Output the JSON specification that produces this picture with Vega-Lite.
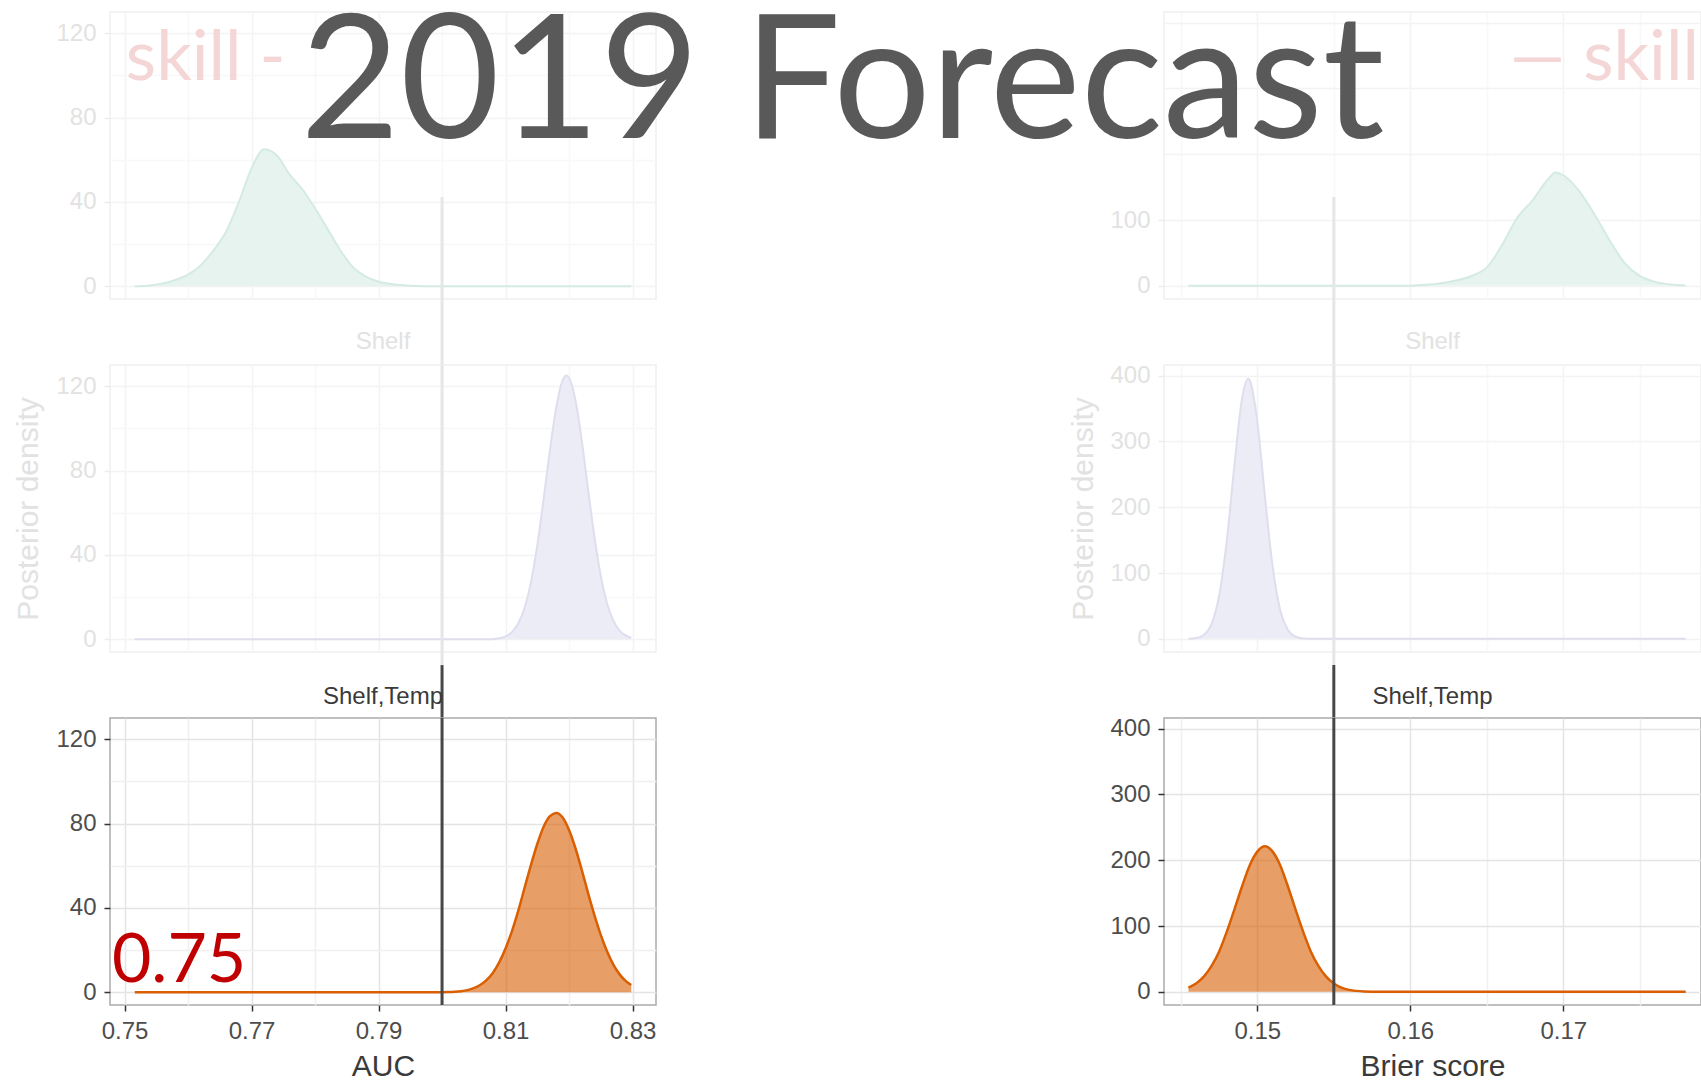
{
  "$schema": "https://vega.github.io/schema/vega-lite/v6.json",
  "background": "white",
  "autosize": {"type": "none"},
  "padding": {"left": 110, "top": 12, "right": 1591, "bottom": 1068},
  "datasets": {
    "auc": [
      {"model": "Temp", "auc": 0.7516, "density": 0}, {"model": "Temp", "auc": 0.754, "density": 0.4}, {"model": "Temp", "auc": 0.756, "density": 1.4}, {"model": "Temp", "auc": 0.758, "density": 3}, {"model": "Temp", "auc": 0.76, "density": 5.5}, {"model": "Temp", "auc": 0.762, "density": 10}, {"model": "Temp", "auc": 0.764, "density": 17}, {"model": "Temp", "auc": 0.766, "density": 26}, {"model": "Temp", "auc": 0.768, "density": 40}, {"model": "Temp", "auc": 0.77, "density": 56}, {"model": "Temp", "auc": 0.772, "density": 65}, {"model": "Temp", "auc": 0.774, "density": 62}, {"model": "Temp", "auc": 0.776, "density": 53}, {"model": "Temp", "auc": 0.778, "density": 46}, {"model": "Temp", "auc": 0.78, "density": 37}, {"model": "Temp", "auc": 0.782, "density": 27}, {"model": "Temp", "auc": 0.784, "density": 17}, {"model": "Temp", "auc": 0.786, "density": 9}, {"model": "Temp", "auc": 0.788, "density": 4.6}, {"model": "Temp", "auc": 0.79, "density": 2.2}, {"model": "Temp", "auc": 0.792, "density": 1.1}, {"model": "Temp", "auc": 0.794, "density": 0.5}, {"model": "Temp", "auc": 0.796, "density": 0.2}, {"model": "Temp", "auc": 0.8, "density": 0.05}, {"model": "Temp", "auc": 0.805, "density": 0}, {"model": "Temp", "auc": 0.81, "density": 0}, {"model": "Temp", "auc": 0.815, "density": 0}, {"model": "Temp", "auc": 0.82, "density": 0}, {"model": "Temp", "auc": 0.825, "density": 0}, {"model": "Temp", "auc": 0.8298, "density": 0},
      {"model": "Shelf", "auc": 0.7516, "density": 0}, {"model": "Shelf", "auc": 0.76, "density": 0}, {"model": "Shelf", "auc": 0.77, "density": 0}, {"model": "Shelf", "auc": 0.78, "density": 0}, {"model": "Shelf", "auc": 0.79, "density": 0}, {"model": "Shelf", "auc": 0.8, "density": 0}, {"model": "Shelf", "auc": 0.805, "density": 0}, {"model": "Shelf", "auc": 0.808, "density": 0.1}, {"model": "Shelf", "auc": 0.809, "density": 0.5}, {"model": "Shelf", "auc": 0.81, "density": 1.4}, {"model": "Shelf", "auc": 0.811, "density": 3.4}, {"model": "Shelf", "auc": 0.812, "density": 7.5}, {"model": "Shelf", "auc": 0.813, "density": 14.9}, {"model": "Shelf", "auc": 0.814, "density": 27}, {"model": "Shelf", "auc": 0.815, "density": 44.5}, {"model": "Shelf", "auc": 0.816, "density": 66.4}, {"model": "Shelf", "auc": 0.817, "density": 89.9}, {"model": "Shelf", "auc": 0.818, "density": 110}, {"model": "Shelf", "auc": 0.819, "density": 122.8}, {"model": "Shelf", "auc": 0.8196, "density": 125}, {"model": "Shelf", "auc": 0.82, "density": 124}, {"model": "Shelf", "auc": 0.821, "density": 113.6}, {"model": "Shelf", "auc": 0.822, "density": 94.4}, {"model": "Shelf", "auc": 0.823, "density": 71.1}, {"model": "Shelf", "auc": 0.824, "density": 48.6}, {"model": "Shelf", "auc": 0.825, "density": 30.2}, {"model": "Shelf", "auc": 0.826, "density": 16.9}, {"model": "Shelf", "auc": 0.827, "density": 8.7}, {"model": "Shelf", "auc": 0.828, "density": 4}, {"model": "Shelf", "auc": 0.829, "density": 1.7}, {"model": "Shelf", "auc": 0.8298, "density": 0.8},
      {"model": "Shelf,Temp", "auc": 0.7516, "density": 0}, {"model": "Shelf,Temp", "auc": 0.76, "density": 0}, {"model": "Shelf,Temp", "auc": 0.77, "density": 0}, {"model": "Shelf,Temp", "auc": 0.78, "density": 0}, {"model": "Shelf,Temp", "auc": 0.79, "density": 0}, {"model": "Shelf,Temp", "auc": 0.795, "density": 0}, {"model": "Shelf,Temp", "auc": 0.8, "density": 0.05}, {"model": "Shelf,Temp", "auc": 0.801, "density": 0.13}, {"model": "Shelf,Temp", "auc": 0.802, "density": 0.28}, {"model": "Shelf,Temp", "auc": 0.803, "density": 0.55}, {"model": "Shelf,Temp", "auc": 0.804, "density": 1.06}, {"model": "Shelf,Temp", "auc": 0.805, "density": 2}, {"model": "Shelf,Temp", "auc": 0.806, "density": 3.5}, {"model": "Shelf,Temp", "auc": 0.807, "density": 5.8}, {"model": "Shelf,Temp", "auc": 0.808, "density": 9.2}, {"model": "Shelf,Temp", "auc": 0.809, "density": 14.2}, {"model": "Shelf,Temp", "auc": 0.81, "density": 20.8}, {"model": "Shelf,Temp", "auc": 0.811, "density": 28.9}, {"model": "Shelf,Temp", "auc": 0.812, "density": 38.6}, {"model": "Shelf,Temp", "auc": 0.813, "density": 49.5}, {"model": "Shelf,Temp", "auc": 0.814, "density": 60.3}, {"model": "Shelf,Temp", "auc": 0.815, "density": 70.3}, {"model": "Shelf,Temp", "auc": 0.816, "density": 78.5}, {"model": "Shelf,Temp", "auc": 0.817, "density": 83.5}, {"model": "Shelf,Temp", "auc": 0.818, "density": 85}, {"model": "Shelf,Temp", "auc": 0.819, "density": 82.8}, {"model": "Shelf,Temp", "auc": 0.82, "density": 76.9}, {"model": "Shelf,Temp", "auc": 0.821, "density": 68.4}, {"model": "Shelf,Temp", "auc": 0.822, "density": 58.1}, {"model": "Shelf,Temp", "auc": 0.823, "density": 47}, {"model": "Shelf,Temp", "auc": 0.824, "density": 36.6}, {"model": "Shelf,Temp", "auc": 0.825, "density": 27.2}, {"model": "Shelf,Temp", "auc": 0.826, "density": 19.3}, {"model": "Shelf,Temp", "auc": 0.827, "density": 13}, {"model": "Shelf,Temp", "auc": 0.828, "density": 8.4}, {"model": "Shelf,Temp", "auc": 0.829, "density": 5.2}, {"model": "Shelf,Temp", "auc": 0.8298, "density": 3.5}
    ],
    "brier": [
      {"model": "Temp", "brier": 0.1455, "density": 0}, {"model": "Temp", "brier": 0.15, "density": 0}, {"model": "Temp", "brier": 0.155, "density": 0}, {"model": "Temp", "brier": 0.158, "density": 0.05}, {"model": "Temp", "brier": 0.16, "density": 0.3}, {"model": "Temp", "brier": 0.161, "density": 1.5}, {"model": "Temp", "brier": 0.162, "density": 4}, {"model": "Temp", "brier": 0.163, "density": 8}, {"model": "Temp", "brier": 0.164, "density": 15}, {"model": "Temp", "brier": 0.165, "density": 28}, {"model": "Temp", "brier": 0.166, "density": 62}, {"model": "Temp", "brier": 0.167, "density": 104}, {"model": "Temp", "brier": 0.168, "density": 130}, {"model": "Temp", "brier": 0.169, "density": 162}, {"model": "Temp", "brier": 0.1695, "density": 172}, {"model": "Temp", "brier": 0.17, "density": 168}, {"model": "Temp", "brier": 0.171, "density": 145}, {"model": "Temp", "brier": 0.172, "density": 110}, {"model": "Temp", "brier": 0.173, "density": 70}, {"model": "Temp", "brier": 0.174, "density": 35}, {"model": "Temp", "brier": 0.175, "density": 15}, {"model": "Temp", "brier": 0.176, "density": 6}, {"model": "Temp", "brier": 0.177, "density": 2}, {"model": "Temp", "brier": 0.178, "density": 0.5},
      {"model": "Shelf", "brier": 0.1455, "density": 0.2}, {"model": "Shelf", "brier": 0.146, "density": 1.2}, {"model": "Shelf", "brier": 0.1465, "density": 5.9}, {"model": "Shelf", "brier": 0.147, "density": 22}, {"model": "Shelf", "brier": 0.1475, "density": 65}, {"model": "Shelf", "brier": 0.148, "density": 148}, {"model": "Shelf", "brier": 0.1485, "density": 263}, {"model": "Shelf", "brier": 0.149, "density": 365}, {"model": "Shelf", "brier": 0.1494, "density": 395}, {"model": "Shelf", "brier": 0.1495, "density": 393}, {"model": "Shelf", "brier": 0.15, "density": 330}, {"model": "Shelf", "brier": 0.1505, "density": 216}, {"model": "Shelf", "brier": 0.151, "density": 110}, {"model": "Shelf", "brier": 0.1515, "density": 43}, {"model": "Shelf", "brier": 0.152, "density": 13.5}, {"model": "Shelf", "brier": 0.1525, "density": 3.2}, {"model": "Shelf", "brier": 0.153, "density": 0.6}, {"model": "Shelf", "brier": 0.154, "density": 0}, {"model": "Shelf", "brier": 0.16, "density": 0}, {"model": "Shelf", "brier": 0.17, "density": 0}, {"model": "Shelf", "brier": 0.178, "density": 0},
      {"model": "Shelf,Temp", "brier": 0.1455, "density": 6.4}, {"model": "Shelf,Temp", "brier": 0.146, "density": 12.6}, {"model": "Shelf,Temp", "brier": 0.1465, "density": 23}, {"model": "Shelf,Temp", "brier": 0.147, "density": 39}, {"model": "Shelf,Temp", "brier": 0.1475, "density": 61}, {"model": "Shelf,Temp", "brier": 0.148, "density": 91}, {"model": "Shelf,Temp", "brier": 0.1485, "density": 125}, {"model": "Shelf,Temp", "brier": 0.149, "density": 160}, {"model": "Shelf,Temp", "brier": 0.1495, "density": 192}, {"model": "Shelf,Temp", "brier": 0.15, "density": 213}, {"model": "Shelf,Temp", "brier": 0.1505, "density": 221}, {"model": "Shelf,Temp", "brier": 0.151, "density": 213}, {"model": "Shelf,Temp", "brier": 0.1515, "density": 192}, {"model": "Shelf,Temp", "brier": 0.152, "density": 160}, {"model": "Shelf,Temp", "brier": 0.1525, "density": 125}, {"model": "Shelf,Temp", "brier": 0.153, "density": 91}, {"model": "Shelf,Temp", "brier": 0.1535, "density": 61}, {"model": "Shelf,Temp", "brier": 0.154, "density": 39}, {"model": "Shelf,Temp", "brier": 0.1545, "density": 23}, {"model": "Shelf,Temp", "brier": 0.155, "density": 12.6}, {"model": "Shelf,Temp", "brier": 0.1555, "density": 6.4}, {"model": "Shelf,Temp", "brier": 0.156, "density": 3}, {"model": "Shelf,Temp", "brier": 0.157, "density": 0.6}, {"model": "Shelf,Temp", "brier": 0.158, "density": 0.1}, {"model": "Shelf,Temp", "brier": 0.16, "density": 0}, {"model": "Shelf,Temp", "brier": 0.165, "density": 0}, {"model": "Shelf,Temp", "brier": 0.17, "density": 0}, {"model": "Shelf,Temp", "brier": 0.175, "density": 0}, {"model": "Shelf,Temp", "brier": 0.178, "density": 0}
    ],
    "thresholds": [
      {"metric": "AUC", "auc": 0.8},
      {"metric": "Brier", "brier": 0.155}
    ]
  },
  "columns": 2,
  "spacing": {"row": 66, "column": 508},
  "bounds": "flush",
  "concat": [
    {
      "width": 546, "height": 287,
      "view": {"stroke": "#f0f0f0", "strokeWidth": 1.5},
      "layer": [
        {"data": {"name": "auc"}, "transform": [{"filter": "datum.model === 'Temp'"}], "mark": {"type": "area", "color": "#e6f3ee", "interpolate": "monotone"},
          "encoding": {
            "x": {"field": "auc", "type": "quantitative", "scale": {"domain": [0.7477, 0.8337]},
              "axis": {"values": [0.75, 0.76, 0.77, 0.78, 0.79, 0.8, 0.81, 0.82, 0.83], "labels": false, "ticks": false, "title": null,
                "gridColor": {"condition": {"test": "round(datum.value*100) % 2 == 1", "value": "#f3f3f3"}, "value": "#f8f8f8"}}},
            "y": {"field": "density", "type": "quantitative", "scale": {"domain": [-6, 130]},
              "axis": {"values": [0, 20, 40, 60, 80, 100, 120], "title": null, "labelColor": "#e2e2e2",
                "labelExpr": "datum.value % 40 == 0 ? datum.label : ''",
                "tickColor": "#ececec", "tickOpacity": {"condition": {"test": "datum.value % 40 == 0", "value": 1}, "value": 0},
                "gridColor": {"condition": {"test": "datum.value % 40 == 0", "value": "#f3f3f3"}, "value": "#f8f8f8"}}},
            "y2": {"datum": 0}
          }},
        {"data": {"name": "auc"}, "transform": [{"filter": "datum.model === 'Temp'"}], "mark": {"type": "line", "color": "#d4ebe2", "strokeWidth": 2, "interpolate": "monotone"},
          "encoding": {
            "x": {"field": "auc", "type": "quantitative", "scale": {"domain": [0.7477, 0.8337]}},
            "y": {"field": "density", "type": "quantitative", "scale": {"domain": [-6, 130]}}
          }},
        {"data": {"name": "thresholds"}, "transform": [{"filter": "datum.metric === 'AUC'"}], "mark": {"type": "rule", "color": "#e6e6e6", "strokeWidth": 3},
          "encoding": {
            "x": {"field": "auc", "type": "quantitative", "scale": {"domain": [0.7477, 0.8337]}},
            "y": {"datum": 42.3, "type": "quantitative", "scale": {"domain": [-6, 130]}},
            "y2": {"datum": -37.3}
          }},
        {"data": {"values": [{"label": "skill -"}]}, "mark": {"type": "text", "font": "Lato", "fontSize": 70, "color": "#f5d6d6", "align": "left", "baseline": "alphabetic"},
          "encoding": {
            "x": {"datum": 0.7502, "type": "quantitative", "scale": {"domain": [0.7477, 0.8337]}},
            "y": {"datum": 98, "type": "quantitative", "scale": {"domain": [-6, 130]}},
            "text": {"field": "label"}
          }}
      ]
    },
    {
      "width": 537, "height": 287,
      "view": {"stroke": "#f0f0f0", "strokeWidth": 1.5},
      "layer": [
        {"data": {"name": "brier"}, "transform": [{"filter": "datum.model === 'Temp'"}], "mark": {"type": "area", "color": "#e6f3ee", "interpolate": "monotone"},
          "encoding": {
            "x": {"field": "brier", "type": "quantitative", "scale": {"domain": [0.1439, 0.179]},
              "axis": {"values": [0.145, 0.15, 0.155, 0.16, 0.165, 0.17, 0.175], "labels": false, "ticks": false, "title": null,
                "gridColor": {"condition": {"test": "round(datum.value*1000) % 10 == 0", "value": "#f3f3f3"}, "value": "#f8f8f8"}}},
            "y": {"field": "density", "type": "quantitative", "scale": {"domain": [-20, 416]},
              "axis": {"values": [0, 50, 100, 150, 200, 250, 300, 350, 400], "title": null, "labelColor": "#e2e2e2",
                "labelExpr": "datum.value == 0 || datum.value == 100 ? datum.label : ''",
                "tickColor": "#ececec", "tickOpacity": {"condition": {"test": "datum.value == 0 || datum.value == 100", "value": 1}, "value": 0},
                "gridColor": {"condition": {"test": "datum.value % 100 == 0", "value": "#f3f3f3"}, "value": "#f8f8f8"}}},
            "y2": {"datum": 0}
          }},
        {"data": {"name": "brier"}, "transform": [{"filter": "datum.model === 'Temp'"}], "mark": {"type": "line", "color": "#d4ebe2", "strokeWidth": 2, "interpolate": "monotone"},
          "encoding": {
            "x": {"field": "brier", "type": "quantitative", "scale": {"domain": [0.1439, 0.179]}},
            "y": {"field": "density", "type": "quantitative", "scale": {"domain": [-20, 416]}}
          }},
        {"data": {"name": "thresholds"}, "transform": [{"filter": "datum.metric === 'Brier'"}], "mark": {"type": "rule", "color": "#e6e6e6", "strokeWidth": 3},
          "encoding": {
            "x": {"field": "brier", "type": "quantitative", "scale": {"domain": [0.1439, 0.179]}},
            "y": {"datum": 135, "type": "quantitative", "scale": {"domain": [-20, 416]}},
            "y2": {"datum": -120.3}
          }},
        {"data": {"values": [{"label": "— skill"}]}, "mark": {"type": "text", "font": "Lato", "fontSize": 70, "color": "#f5d6d6", "align": "left", "baseline": "alphabetic"},
          "encoding": {
            "x": {"datum": 0.1665, "type": "quantitative", "scale": {"domain": [0.1439, 0.179]}},
            "y": {"datum": 313, "type": "quantitative", "scale": {"domain": [-20, 416]}},
            "text": {"field": "label"}
          }},
        {"data": {"values": [{"label": "2019 Forecast"}]}, "mark": {"type": "text", "font": "Lato", "fontSize": 172, "color": "#595959", "align": "left", "baseline": "alphabetic"},
          "encoding": {
            "x": {"datum": 0.08745, "type": "quantitative", "scale": {"domain": [0.1439, 0.179]}},
            "y": {"datum": 225, "type": "quantitative", "scale": {"domain": [-20, 416]}},
            "text": {"field": "label"}
          }}
      ]
    },
    {
      "width": 546, "height": 287,
      "view": {"stroke": "#f0f0f0", "strokeWidth": 1.5},
      "title": {"text": "Shelf", "font": "Liberation Sans", "fontSize": 24, "fontWeight": "normal", "color": "#e2e2e2", "anchor": "middle", "frame": "group", "baseline": "middle", "offset": -2},
      "layer": [
        {"data": {"name": "auc"}, "transform": [{"filter": "datum.model === 'Shelf'"}], "mark": {"type": "area", "color": "#ececf6", "interpolate": "monotone"},
          "encoding": {
            "x": {"field": "auc", "type": "quantitative", "scale": {"domain": [0.7477, 0.8337]},
              "axis": {"values": [0.75, 0.76, 0.77, 0.78, 0.79, 0.8, 0.81, 0.82, 0.83], "labels": false, "ticks": false, "title": null,
                "gridColor": {"condition": {"test": "round(datum.value*100) % 2 == 1", "value": "#f3f3f3"}, "value": "#f8f8f8"}}},
            "y": {"field": "density", "type": "quantitative", "scale": {"domain": [-6, 130]},
              "axis": {"values": [0, 20, 40, 60, 80, 100, 120], "labelColor": "#e2e2e2",
                "labelExpr": "datum.value % 40 == 0 ? datum.label : ''",
                "tickColor": "#ececec", "tickOpacity": {"condition": {"test": "datum.value % 40 == 0", "value": 1}, "value": 0},
                "gridColor": {"condition": {"test": "datum.value % 40 == 0", "value": "#f3f3f3"}, "value": "#f8f8f8"},
                "title": "Posterior density", "titleColor": "#e2e2e2", "titleFontSize": 30, "titleX": -82, "titleY": 143.5, "titleAngle": 270, "titleAlign": "center", "titleBaseline": "middle"}},
            "y2": {"datum": 0}
          }},
        {"data": {"name": "auc"}, "transform": [{"filter": "datum.model === 'Shelf'"}], "mark": {"type": "line", "color": "#dedeef", "strokeWidth": 2, "interpolate": "monotone"},
          "encoding": {
            "x": {"field": "auc", "type": "quantitative", "scale": {"domain": [0.7477, 0.8337]}},
            "y": {"field": "density", "type": "quantitative", "scale": {"domain": [-6, 130]}}
          }},
        {"data": {"name": "thresholds"}, "transform": [{"filter": "datum.metric === 'AUC'"}], "mark": {"type": "rule", "color": "#e6e6e6", "strokeWidth": 3},
          "encoding": {
            "x": {"field": "auc", "type": "quantitative", "scale": {"domain": [0.7477, 0.8337]}},
            "y": {"datum": 130, "type": "quantitative", "scale": {"domain": [-6, 130]}},
            "y2": {"datum": -12.2}
          }},
        {"data": {"name": "thresholds"}, "transform": [{"filter": "datum.metric === 'AUC'"}], "mark": {"type": "rule", "color": "#474747", "strokeWidth": 3},
          "encoding": {
            "x": {"field": "auc", "type": "quantitative", "scale": {"domain": [0.7477, 0.8337]}},
            "y": {"datum": -12.2, "type": "quantitative", "scale": {"domain": [-6, 130]}},
            "y2": {"datum": -37.3}
          }}
      ]
    },
    {
      "width": 537, "height": 287,
      "view": {"stroke": "#f0f0f0", "strokeWidth": 1.5},
      "title": {"text": "Shelf", "font": "Liberation Sans", "fontSize": 24, "fontWeight": "normal", "color": "#e2e2e2", "anchor": "middle", "frame": "group", "baseline": "middle", "offset": -2},
      "layer": [
        {"data": {"name": "brier"}, "transform": [{"filter": "datum.model === 'Shelf'"}], "mark": {"type": "area", "color": "#ececf6", "interpolate": "monotone"},
          "encoding": {
            "x": {"field": "brier", "type": "quantitative", "scale": {"domain": [0.1439, 0.179]},
              "axis": {"values": [0.145, 0.15, 0.155, 0.16, 0.165, 0.17, 0.175], "labels": false, "ticks": false, "title": null,
                "gridColor": {"condition": {"test": "round(datum.value*1000) % 10 == 0", "value": "#f3f3f3"}, "value": "#f8f8f8"}}},
            "y": {"field": "density", "type": "quantitative", "scale": {"domain": [-20, 416]},
              "axis": {"values": [0, 50, 100, 150, 200, 250, 300, 350, 400], "labelColor": "#e2e2e2",
                "labelExpr": "datum.value % 100 == 0 ? datum.label : ''",
                "tickColor": "#ececec", "tickOpacity": {"condition": {"test": "datum.value % 100 == 0", "value": 1}, "value": 0},
                "gridColor": {"condition": {"test": "datum.value % 100 == 0", "value": "#f3f3f3"}, "value": "#f8f8f8"},
                "title": "Posterior density", "titleColor": "#e2e2e2", "titleFontSize": 30, "titleX": -81, "titleY": 143.5, "titleAngle": 270, "titleAlign": "center", "titleBaseline": "middle"}},
            "y2": {"datum": 0}
          }},
        {"data": {"name": "brier"}, "transform": [{"filter": "datum.model === 'Shelf'"}], "mark": {"type": "line", "color": "#dedeef", "strokeWidth": 2, "interpolate": "monotone"},
          "encoding": {
            "x": {"field": "brier", "type": "quantitative", "scale": {"domain": [0.1439, 0.179]}},
            "y": {"field": "density", "type": "quantitative", "scale": {"domain": [-20, 416]}}
          }},
        {"data": {"name": "thresholds"}, "transform": [{"filter": "datum.metric === 'Brier'"}], "mark": {"type": "rule", "color": "#e6e6e6", "strokeWidth": 3},
          "encoding": {
            "x": {"field": "brier", "type": "quantitative", "scale": {"domain": [0.1439, 0.179]}},
            "y": {"datum": 416, "type": "quantitative", "scale": {"domain": [-20, 416]}},
            "y2": {"datum": -39.7}
          }},
        {"data": {"name": "thresholds"}, "transform": [{"filter": "datum.metric === 'Brier'"}], "mark": {"type": "rule", "color": "#474747", "strokeWidth": 3},
          "encoding": {
            "x": {"field": "brier", "type": "quantitative", "scale": {"domain": [0.1439, 0.179]}},
            "y": {"datum": -39.7, "type": "quantitative", "scale": {"domain": [-20, 416]}},
            "y2": {"datum": -120.3}
          }}
      ]
    },
    {
      "width": 546, "height": 287,
      "view": {"stroke": "#ababab", "strokeWidth": 1.5},
      "title": {"text": "Shelf,Temp", "font": "Liberation Sans", "fontSize": 24, "fontWeight": "normal", "color": "#3a3a3a", "anchor": "middle", "frame": "group", "baseline": "middle", "offset": -4},
      "layer": [
        {"data": {"name": "auc"}, "transform": [{"filter": "datum.model === 'Shelf,Temp'"}], "mark": {"type": "area", "color": "#d95f02", "fillOpacity": 0.6, "interpolate": "monotone"},
          "encoding": {
            "x": {"field": "auc", "type": "quantitative", "scale": {"domain": [0.7477, 0.8337]},
              "axis": {"values": [0.75, 0.76, 0.77, 0.78, 0.79, 0.8, 0.81, 0.82, 0.83], "labelColor": "#4d4d4d",
                "labelExpr": "round(datum.value*100) % 2 == 1 ? format(datum.value, '.2f') : ''",
                "tickColor": "#333333", "tickOpacity": {"condition": {"test": "round(datum.value*100) % 2 == 1", "value": 1}, "value": 0},
                "gridColor": {"condition": {"test": "round(datum.value*100) % 2 == 1", "value": "#e4e4e4"}, "value": "#f0f0f0"},
                "title": "AUC", "titleColor": "#3a3a3a", "titleFontSize": 30, "titleY": 61, "titleBaseline": "middle"}},
            "y": {"field": "density", "type": "quantitative", "scale": {"domain": [-6, 130]},
              "axis": {"values": [0, 20, 40, 60, 80, 100, 120], "title": null, "labelColor": "#4d4d4d",
                "labelExpr": "datum.value % 40 == 0 ? datum.label : ''",
                "tickColor": "#333333", "tickOpacity": {"condition": {"test": "datum.value % 40 == 0", "value": 1}, "value": 0},
                "gridColor": {"condition": {"test": "datum.value % 40 == 0", "value": "#e4e4e4"}, "value": "#f0f0f0"}}},
            "y2": {"datum": 0}
          }},
        {"data": {"name": "auc"}, "transform": [{"filter": "datum.model === 'Shelf,Temp'"}], "mark": {"type": "line", "color": "#d95f02", "strokeWidth": 2.5, "interpolate": "monotone"},
          "encoding": {
            "x": {"field": "auc", "type": "quantitative", "scale": {"domain": [0.7477, 0.8337]}},
            "y": {"field": "density", "type": "quantitative", "scale": {"domain": [-6, 130]}}
          }},
        {"data": {"name": "thresholds"}, "transform": [{"filter": "datum.metric === 'AUC'"}], "mark": {"type": "rule", "color": "#474747", "strokeWidth": 3},
          "encoding": {
            "x": {"field": "auc", "type": "quantitative", "scale": {"domain": [0.7477, 0.8337]}},
            "y": {"datum": 130, "type": "quantitative", "scale": {"domain": [-6, 130]}},
            "y2": {"datum": -6}
          }},
        {"data": {"values": [{"label": "0.75"}]}, "mark": {"type": "text", "font": "Lato", "fontSize": 68, "color": "#c00000", "align": "left", "baseline": "alphabetic"},
          "encoding": {
            "x": {"datum": 0.748, "type": "quantitative", "scale": {"domain": [0.7477, 0.8337]}},
            "y": {"datum": 5, "type": "quantitative", "scale": {"domain": [-6, 130]}},
            "text": {"field": "label"}
          }}
      ]
    },
    {
      "width": 537, "height": 287,
      "view": {"stroke": "#ababab", "strokeWidth": 1.5},
      "title": {"text": "Shelf,Temp", "font": "Liberation Sans", "fontSize": 24, "fontWeight": "normal", "color": "#3a3a3a", "anchor": "middle", "frame": "group", "baseline": "middle", "offset": -4},
      "layer": [
        {"data": {"name": "brier"}, "transform": [{"filter": "datum.model === 'Shelf,Temp'"}], "mark": {"type": "area", "color": "#d95f02", "fillOpacity": 0.6, "interpolate": "monotone"},
          "encoding": {
            "x": {"field": "brier", "type": "quantitative", "scale": {"domain": [0.1439, 0.179]},
              "axis": {"values": [0.145, 0.15, 0.155, 0.16, 0.165, 0.17, 0.175], "labelColor": "#4d4d4d",
                "labelExpr": "round(datum.value*1000) % 10 == 0 ? format(datum.value, '.2f') : ''",
                "tickColor": "#333333", "tickOpacity": {"condition": {"test": "round(datum.value*1000) % 10 == 0", "value": 1}, "value": 0},
                "gridColor": {"condition": {"test": "round(datum.value*1000) % 10 == 0", "value": "#e4e4e4"}, "value": "#f0f0f0"},
                "title": "Brier score", "titleColor": "#3a3a3a", "titleFontSize": 30, "titleY": 61, "titleBaseline": "middle"}},
            "y": {"field": "density", "type": "quantitative", "scale": {"domain": [-20, 416]},
              "axis": {"values": [0, 50, 100, 150, 200, 250, 300, 350, 400], "title": null, "labelColor": "#4d4d4d",
                "labelExpr": "datum.value % 100 == 0 ? datum.label : ''",
                "tickColor": "#333333", "tickOpacity": {"condition": {"test": "datum.value % 100 == 0", "value": 1}, "value": 0},
                "gridColor": {"condition": {"test": "datum.value % 100 == 0", "value": "#e4e4e4"}, "value": "#f0f0f0"}}},
            "y2": {"datum": 0}
          }},
        {"data": {"name": "brier"}, "transform": [{"filter": "datum.model === 'Shelf,Temp'"}], "mark": {"type": "line", "color": "#d95f02", "strokeWidth": 2.5, "interpolate": "monotone"},
          "encoding": {
            "x": {"field": "brier", "type": "quantitative", "scale": {"domain": [0.1439, 0.179]}},
            "y": {"field": "density", "type": "quantitative", "scale": {"domain": [-20, 416]}}
          }},
        {"data": {"name": "thresholds"}, "transform": [{"filter": "datum.metric === 'Brier'"}], "mark": {"type": "rule", "color": "#474747", "strokeWidth": 3},
          "encoding": {
            "x": {"field": "brier", "type": "quantitative", "scale": {"domain": [0.1439, 0.179]}},
            "y": {"datum": 416, "type": "quantitative", "scale": {"domain": [-20, 416]}},
            "y2": {"datum": -20}
          }}
      ]
    }
  ],
  "config": {
    "font": "Liberation Sans",
    "axis": {"labelFont": "Liberation Sans", "titleFont": "Liberation Sans", "labelFontSize": 24, "titleFontSize": 30, "titleFontWeight": "normal", "labelFlush": false, "labelOverlap": false, "domain": false, "tickSize": 6, "labelPadding": 8, "gridWidth": 1.5, "tickWidth": 1.5}
  }
}
